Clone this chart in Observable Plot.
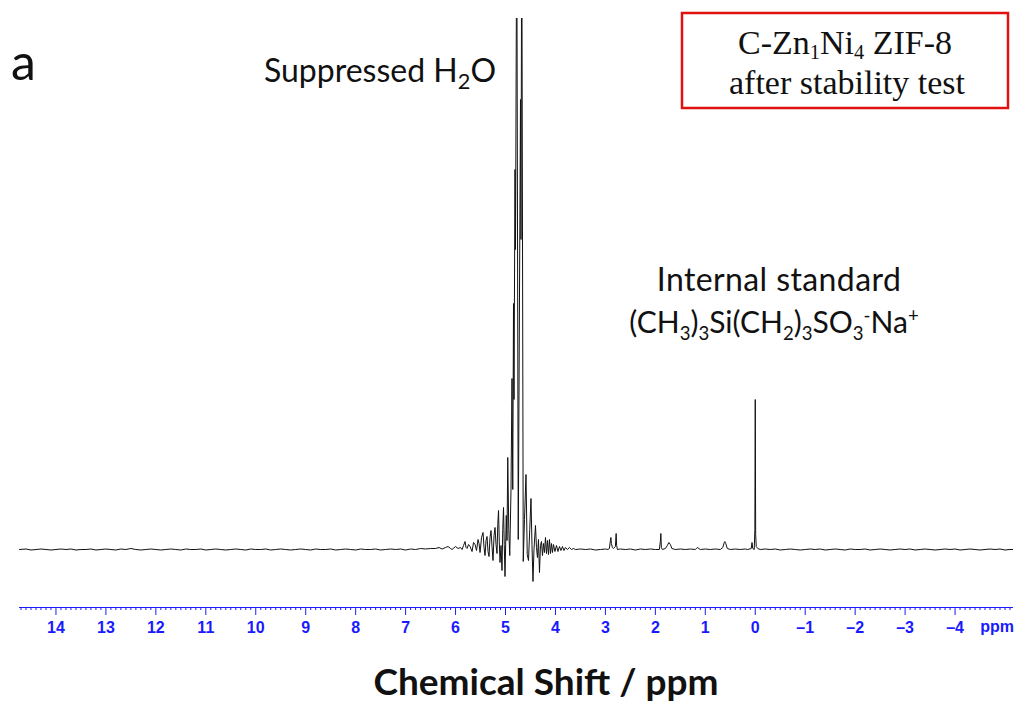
<!DOCTYPE html>
<html>
<head>
<meta charset="utf-8">
<script src="https://cdn.jsdelivr.net/npm/d3@7"></script>
<script src="https://cdn.jsdelivr.net/npm/@observablehq/plot@0.6"></script>
<style>
  html, body { margin: 0; padding: 0; background: #fff; }
  #wrap { position: relative; width: 1019px; height: 704px; overflow: hidden; }
  #chart { position: absolute; left: 0; top: 0; }
  #overlay { position: absolute; left: 0; top: 0; }
</style>
</head>
<body>
<div id="wrap">
  <div id="chart"></div>
  <svg id="overlay" width="1019" height="704"></svg>
</div>
<script>
// ---- Data (ppm, intensity in arbitrary units; baseline = 0) ----
const baselineLeft = [
  [14.73,0],[14.6,0.5],[14.5,-0.5],[14.4,0],[14.3,0.5],[14.2,0],[14.1,-0.5],[14.0,0],[13.9,0.5],
  [13.8,0],[13.7,0.5],[13.6,-0.5],[13.5,0],[13.4,0],[13.3,0.5],[13.2,-0.5],[13.1,0],[13.0,0.5],
  [12.9,0],[12.8,-0.5],[12.7,0.5],[12.6,0],[12.5,1],[12.4,0],[12.3,-0.5],[12.2,0],[12.1,0.5],
  [12.0,0],[11.9,-0.5],[11.8,0],[11.7,0.5],[11.6,0],[11.5,-0.5],[11.4,0.5],[11.3,0],[11.2,0],
  [11.1,0.5],[11.0,-0.5],[10.9,0],[10.8,0.5],[10.7,0],[10.6,-0.5],[10.5,0],[10.4,0.5],[10.3,0],
  [10.2,-0.5],[10.1,0.5],[10.0,0],[9.9,0],[9.8,0.5],[9.7,-0.5],[9.6,0],[9.5,0.5],[9.4,0],
  [9.3,-0.5],[9.2,0],[9.1,0.5],[9.0,0],[8.9,-0.5],[8.8,0.5],[8.7,0],[8.6,0],[8.5,0.5],[8.4,-0.5],
  [8.3,0],[8.2,0.5],[8.1,0],[8.0,-0.5],[7.9,0.5],[7.8,0],[7.7,0],[7.6,0.5],[7.5,-0.5],[7.4,0],
  [7.3,0.5],[7.2,0],[7.1,0.5],[7.0,-0.5],[6.9,0.5],[6.8,0],[6.7,1],[6.6,0.5],[6.5,1]
];
const waterLeft = [
  [6.4,1],[6.33,2],[6.27,0.5],[6.2,2],[6.15,3],[6.1,1],[6.07,0],[6.0,3],[5.95,1],[5.9,2],
  [5.87,0],[5.84,4],[5.81,8],[5.79,2],[5.77,1],[5.74,5],[5.71,3],[5.67,-2],[5.64,7],[5.61,5],
  [5.58,-1],[5.55,10],[5.53,6],[5.51,-3],[5.48,12],[5.45,17],[5.43,2],[5.41,-6],[5.39,9],
  [5.37,13],[5.35,-2],[5.33,-7],[5.31,12],[5.29,19],[5.27,3],[5.25,-11],[5.23,14],[5.21,22],
  [5.19,5],[5.17,-4],[5.155,25],[5.14,39],[5.125,8],[5.11,-13],[5.09,4],[5.07,-21],[5.055,20],
  [5.04,42],[5.025,5],[5.01,-27],[4.985,34],[4.97,9],[4.955,92],[4.935,20],[4.915,-6],
  [4.89,60],[4.87,171],[4.855,60],[4.84,246],[4.83,150],[4.81,380],[4.80,300],[4.775,650]
];
const waterRight = [
  [4.745,10],[4.70,450],[4.69,310],[4.675,650],[4.645,-12],[4.62,30],[4.59,75],[4.565,-5],
  [4.54,-11],[4.515,20],[4.49,51],[4.47,5],[4.45,-32],[4.43,0],[4.40,24],[4.38,2],[4.36,-8],
  [4.34,10],[4.32,-23],[4.30,4],[4.28,8],[4.26,-6],[4.24,6],[4.22,-3],[4.20,12],[4.18,-4],
  [4.16,9],[4.14,-5],[4.12,10],[4.10,-4],[4.08,6],[4.06,-3],[4.04,5],[4.01,-2],[3.98,4],
  [3.95,-2],[3.92,3],[3.89,-1],[3.86,3],[3.83,-1],[3.80,2],[3.76,0],[3.72,2],[3.68,0],
  [3.64,1],[3.6,0]
];
const smallPeaks = [
  [3.5,0.5],[3.4,0],[3.3,0.5],[3.2,-0.5],[3.1,0],[3.0,0.5],[2.95,0],[2.92,1],[2.90,9],[2.89,12],
  [2.88,6],[2.86,2],[2.84,1],[2.80,3],[2.785,16],[2.775,4],[2.76,0],[2.7,0.5],[2.6,0],[2.5,0.5],
  [2.4,-0.5],[2.3,0.5],[2.2,0],[2.1,0.5],[2.0,0],[1.92,0],[1.90,8],[1.89,16],[1.88,2],[1.86,0],
  [1.80,1],[1.76,4],[1.73,7],[1.70,5],[1.67,1],[1.6,0],[1.5,0.5],[1.4,0],[1.3,0.5],[1.2,0],
  [1.16,2],[1.1,0],[1.0,0.5],[0.9,0],[0.8,0.5],[0.7,0],[0.65,2],[0.62,7],[0.61,8],[0.59,6],
  [0.56,1],[0.5,0],[0.4,0.5],[0.3,0],[0.2,0.5],[0.15,0],[0.08,1],[0.065,7],[0.05,1],[0.02,0]
];
const tspPeak = [
  [0.008,20],[0.0,150],[-0.008,15],[-0.02,3],[-0.05,1],[-0.1,0]
];
const baselineRight = [
  [-0.2,0.5],[-0.3,0],[-0.4,0.5],[-0.5,-0.5],[-0.6,0],[-0.7,0.5],[-0.8,0],[-0.9,-0.5],[-1.0,0],
  [-1.1,0.5],[-1.2,0],[-1.3,0.5],[-1.4,-0.5],[-1.5,0],[-1.6,0.5],[-1.7,0],[-1.8,-0.5],[-1.9,0.5],
  [-2.0,0],[-2.1,0],[-2.2,0.5],[-2.3,-0.5],[-2.4,0],[-2.5,0.5],[-2.6,0],[-2.7,-0.5],[-2.8,0],
  [-2.9,0.5],[-3.0,0],[-3.1,0.5],[-3.2,-0.5],[-3.3,0],[-3.4,0.5],[-3.5,0],[-3.6,-0.5],[-3.7,0],
  [-3.8,0.5],[-3.9,0],[-4.0,0.5],[-4.1,-0.5],[-4.2,0],[-4.3,0.5],[-4.4,0],[-4.5,-0.5],[-4.6,0],
  [-4.7,0.5],[-4.8,0],[-4.9,0.5],[-5.0,-0.5],[-5.1,0],[-5.17,0]
];
const majorTicks = [14,13,12,11,10,9,8,7,6,5,4,3,2,1,0,-1,-2,-3,-4];
const xDomain = [14.73, -5.17];
const yDomain = [-58, 531];

const spectrum = [...baselineLeft, ...waterLeft, ...waterRight, ...smallPeaks, ...tspPeak, ...baselineRight]
  .map(([ppm, I]) => ({ppm, I}));
const minorTicks = d3.range(-51, 148).map(i => i / 10).filter(v => !majorTicks.includes(v));

const blue = "#1a1aff";
const fmt = d => d < 0 ? "\u2013" + (-d) : String(d);

const chart = Plot.plot({
  width: 1019,
  height: 650,
  marginLeft: 19,
  marginRight: 6,
  marginTop: 18,
  marginBottom: 43,
  style: {fontFamily: "Liberation Sans, Arial, sans-serif", background: "white"},
  x: {domain: xDomain, label: null},
  y: {domain: yDomain, axis: null},
  marks: [
    Plot.ruleY([yDomain[0]], {stroke: blue, strokeWidth: 1.2}),
    Plot.axisX({ticks: minorTicks, tickSize: 3, text: null, label: null, stroke: blue, strokeWidth: 1}),
    Plot.axisX({ticks: majorTicks, tickSize: 8, tickPadding: 6, stroke: blue, fill: blue,
      fontWeight: "bold", fontSize: 16, tickFormat: fmt, label: null}),
    Plot.line(spectrum, {x: "ppm", y: "I", stroke: "#111", strokeWidth: 1, clip: true})
  ]
});
document.getElementById("chart").appendChild(chart);

// ---- Annotations (real text, with sub/superscripts) ----
const ov = d3.select("#overlay");
const sans = "Lato, 'Open Sans', sans-serif";
const serif = "'Liberation Serif', 'Times New Roman', serif";

ov.append("text").attr("x", 1014).attr("y", 632).attr("text-anchor", "end")
  .attr("font-family", "'Liberation Sans', Arial, sans-serif").attr("font-weight", "bold")
  .attr("font-size", 16).attr("fill", blue).text("ppm");

ov.append("text").attr("x", 11).attr("y", 80).attr("font-family", sans).attr("font-size", 50).attr("fill", "#111").text("a");

function rich(x, y, size, family, parts, extra = {}, subScale = 0.68, subShift = 0.22) {
  const t = ov.append("text").attr("x", x).attr("y", y).attr("font-family", family)
    .attr("font-size", size).attr("text-anchor", "middle").attr("fill", "#111");
  for (const k in extra) t.attr(k, extra[k]);
  let shift = 0;
  for (const [s, kind] of parts) {
    const target = kind === "sub" ? size * subShift : kind === "sup" ? -size * 0.38 : 0;
    const ts = t.append("tspan").attr("dy", target - shift).text(s);
    if (kind) ts.attr("font-size", size * subScale);
    shift = target;
  }
  return t;
}

rich(380, 82, 32, sans, [["Suppressed H"], ["2", "sub"], ["O"]]);
rich(779, 291, 32, sans, [["Internal standard"]], {"letter-spacing": "0.4px"});
rich(774, 333, 30, sans, [["(CH"], ["3", "sub"], [")"], ["3", "sub"], ["Si(CH"], ["2", "sub"], [")"],
  ["3", "sub"], ["SO"], ["3", "sub"], ["-", "sup"], ["Na"], ["+", "sup"]], {}, 0.62);

ov.append("rect").attr("x", 682).attr("y", 13).attr("width", 326).attr("height", 95)
  .attr("fill", "none").attr("stroke", "#e31010").attr("stroke-width", 2.5);
rich(845, 54, 34, serif, [["C-Zn"], ["1", "sub"], ["Ni"], ["4", "sub"], [" ZIF-8"]], {}, 0.6, 0.14);
rich(847, 94, 34, serif, [["after stability test"]]);

rich(546, 695, 37, sans, [["Chemical Shift / ppm"]], {"font-weight": "bold"});
</script>
</body>
</html>
